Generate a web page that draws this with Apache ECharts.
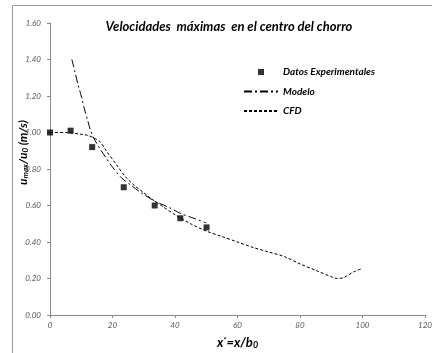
<!DOCTYPE html>
<html>
<head>
<meta charset="utf-8">
<script src="https://cdn.jsdelivr.net/npm/echarts@6/dist/echarts.min.js"></script>
<style>
  html, body { margin: 0; padding: 0; background: #fff; }
  #main { width: 432px; height: 353px; }
</style>
</head>
<body>
<div id="main"></div>
<script>
// datos
var expX = [0, 6.6, 13.5, 23.6, 33.5, 41.7, 50.1];
var expY = [1.00, 1.01, 0.92, 0.70, 0.60, 0.53, 0.48];

var modeloX = [7, 8, 9, 10, 11, 12, 13, 14, 16, 18, 20, 23, 26, 30, 34, 38, 42, 46, 50];
var modeloY = [1.40, 1.33, 1.26, 1.20, 1.13, 1.07, 1.01, 0.97, 0.91, 0.86, 0.81, 0.75, 0.71, 0.66, 0.62, 0.59, 0.555, 0.53, 0.505];

var cfdX = [0, 5, 10, 12, 14, 16, 18, 21, 24, 27, 30, 33, 36, 40, 45, 50, 55, 60, 65, 70, 75, 80, 85, 90, 92, 94, 97, 100];
var cfdY = [1.00, 1.00, 0.99, 0.985, 0.97, 0.95, 0.90, 0.83, 0.76, 0.71, 0.67, 0.63, 0.595, 0.55, 0.50, 0.46, 0.43, 0.40, 0.37, 0.345, 0.32, 0.28, 0.245, 0.21, 0.20, 0.205, 0.235, 0.255];

var xTicks = [0, 20, 40, 60, 80, 100, 120];
var yTicks = [0, 0.2, 0.4, 0.6, 0.8, 1.0, 1.2, 1.4, 1.6];

function pares(xs, ys) {
    return xs.map(function (x, i) { return [x, ys[i]]; });
}

var fuente = 'Lato';
var sinSimbolo = { color: 'rgba(0,0,0,0)', borderWidth: 0 };
var myChart = echarts.init(document.getElementById('main'));

var options = {
    animation: false,
    backgroundColor: '#fff',
    title: {
        text: 'Velocidades  máximas  en el centro del chorro',
        left: 224,
        textAlign: 'center',
        top: 15,
        textStyle: { fontFamily: fuente, fontSize: 13, fontWeight: 'bold', fontStyle: 'italic', color: '#000' }
    },
    legend: {
        orient: 'vertical',
        left: 243,
        top: 67,
        padding: 0,
        itemWidth: 34,
        itemHeight: 6,
        itemGap: 9.5,
        textStyle: { fontFamily: fuente, fontSize: 10, fontWeight: 'bold', fontStyle: 'italic', color: '#000' },
        data: [
            { name: 'Datos Experimentales', icon: 'path://M0,0H1V1H0Z' },
            { name: 'Modelo', itemStyle: sinSimbolo },
            { name: 'CFD', itemStyle: sinSimbolo }
        ]
    },
    graphic: [{
        type: 'rect',
        shape: { x: 12.5, y: 5.5, width: 600, height: 600 },
        style: { fill: null, stroke: '#9a9a9a', lineWidth: 1 },
        silent: true
    }],
    grid: { left: 50, right: 7, top: 23, bottom: 38, outerBoundsMode: 'none', containLabel: false },
    xAxis: {
        type: 'value',
        min: 0, max: 120, interval: 20,
        name: '{b|x}{s|*}{b|=x/b}{sub|0}',
        nameLocation: 'middle',
        nameGap: 21,
        nameMoveOverlap: false,
        nameTextStyle: {
            rich: {
                b: { fontFamily: fuente, fontSize: 13, fontWeight: 'bold', fontStyle: 'italic', color: '#000' },
                s: { fontFamily: fuente, fontSize: 8, fontWeight: 'bold', fontStyle: 'italic', color: '#000', verticalAlign: 'top', padding: [0, 0, 6, 0] },
                sub: { fontFamily: fuente, fontSize: 9, fontWeight: 'bold', fontStyle: 'italic', color: '#000', verticalAlign: 'bottom', padding: [4, 0, 0, 0] }
            }
        },
        splitLine: { show: false },
        axisLine: { lineStyle: { color: '#868686' } },
        axisTick: { length: 3, lineStyle: { color: '#868686' } },
        axisLabel: {
            margin: 6,
            fontFamily: fuente, fontSize: 8, fontStyle: 'italic', color: '#595959',
            formatter: function (v) { return xTicks.indexOf(v) >= 0 ? String(v) : ''; }
        }
    },
    yAxis: {
        type: 'value',
        min: 0, max: 1.6, interval: 0.2,
        name: '{sp|}{b|u}{sub|max}{b|/u}{sub|0}{b| (m/s)}',
        nameLocation: 'middle',
        nameRotate: 90,
        nameGap: 21,
        nameMoveOverlap: false,
        nameTextStyle: {
            rich: {
                sp: { width: 33 },
                b: { fontFamily: fuente, fontSize: 12, fontWeight: 'bold', fontStyle: 'italic', color: '#000' },
                sub: { fontFamily: fuente, fontSize: 8, fontWeight: 'bold', fontStyle: 'italic', color: '#000', verticalAlign: 'bottom', padding: [4, 0, 0, 0] }
            }
        },
        splitLine: { show: false },
        axisLine: { show: true, lineStyle: { color: '#868686' } },
        axisTick: { show: true, length: 3, lineStyle: { color: '#868686' } },
        axisLabel: {
            margin: 9,
            fontFamily: fuente, fontSize: 8, fontStyle: 'italic', color: '#595959',
            formatter: function (v) {
                var ok = yTicks.some(function (t) { return Math.abs(t - v) < 1e-6; });
                return ok ? v.toFixed(2) : '';
            }
        }
    },
    series: [
        {
            name: 'Datos Experimentales',
            type: 'scatter',
            symbol: 'rect',
            symbolSize: 6,
            itemStyle: { color: '#000' },
            data: pares(expX, expY),
            z: 5
        },
        {
            name: 'Modelo',
            type: 'line',
            showSymbol: false,
            symbol: 'none',
            smooth: 0.3,
            itemStyle: { color: '#000' },
            lineStyle: { color: '#000', width: 1, type: [8, 3, 2, 3] },
            data: pares(modeloX, modeloY)
        },
        {
            name: 'CFD',
            type: 'line',
            showSymbol: false,
            symbol: 'none',
            smooth: 0.3,
            itemStyle: { color: '#000' },
            lineStyle: { color: '#000', width: 1, type: [3, 2] },
            data: pares(cfdX, cfdY)
        }
    ]
};

myChart.setOption(options, true);
</script>
</body>
</html>
